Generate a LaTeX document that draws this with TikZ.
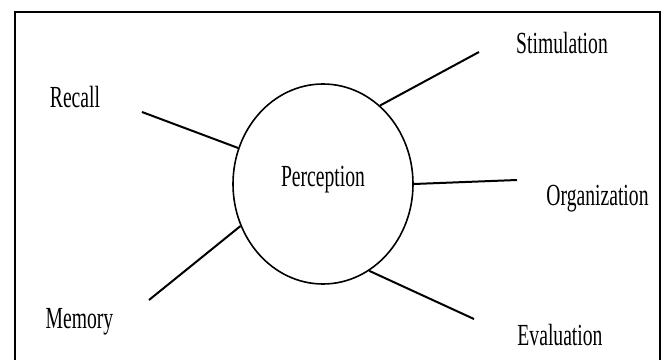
\documentclass[tikz,border=0pt]{standalone}
\usepackage{fontspec}
\setmainfont{Liberation Serif}
\usetikzlibrary{shapes.geometric}
\tikzset{
  core/.style={draw,ellipse,line width=1.2pt,minimum width=135pt,minimum height=150pt,inner sep=0pt},
  lbl/.style={font=\fontsize{23}{26}\selectfont,xscale=0.64,anchor=base,inner sep=0pt},
  spoke/.style={line width=1.5pt},
}
\begin{document}
\begin{tikzpicture}[x=0.75pt,y=-0.75pt]
  \useasboundingbox (0,0) rectangle (664,360);
  % open frame, bottom edge falls off the page
  \draw[line width=1.5pt] (15,380) -- (15,12.5) -- (659.5,12.5) -- (659.5,380);
  \node[core] (perc) at (323,184) {};
  \node[lbl] (perctxt) at (323,186) {Perception};
  % outer labels
  \node[lbl] (recall) at (75,108) {Recall};
  \node[lbl] (memory) at (79.5,328) {Memory};
  \node[lbl] (stim) at (562,54) {Stimulation};
  \node[lbl] (org) at (597.5,205) {Organization};
  \node[lbl] (eval) at (560,345) {Evaluation};
  % free ends of the spokes
  \coordinate (recallend) at (142,112);
  \coordinate (memoryend) at (149,300);
  \coordinate (stimend) at (479,52);
  \coordinate (orgend) at (517,180);
  \coordinate (evalend) at (474,319);
  \draw[spoke] (perc.157.6) -- (recallend);
  \draw[spoke] (perc.207.9) -- (memoryend);
  \draw[spoke] (perc.54.9) -- (stimend);
  \draw[spoke] (perc.0.6) -- (orgend);
  \draw[spoke] (perc.298.8) -- (evalend);
\end{tikzpicture}
\end{document}
